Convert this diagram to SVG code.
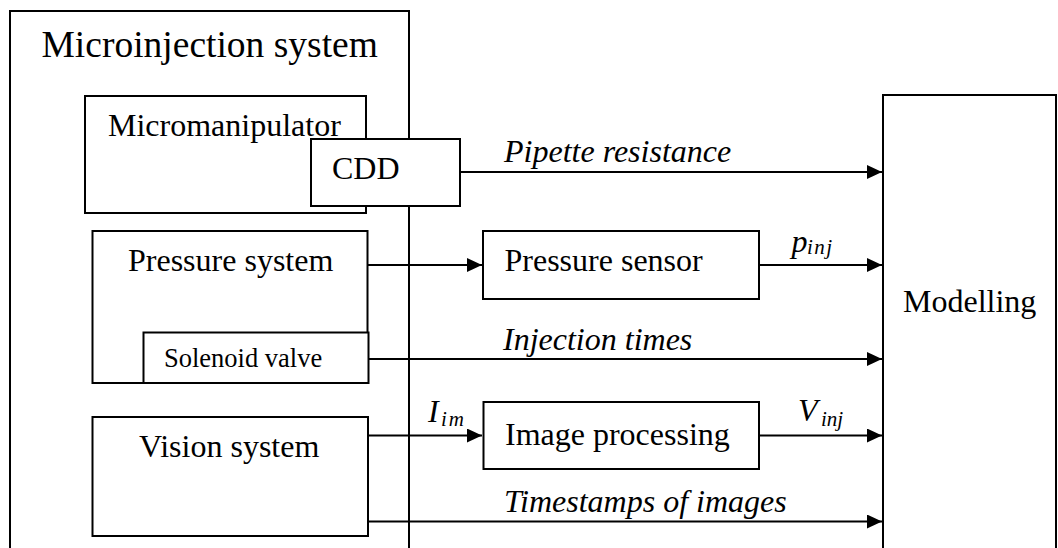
<svg xmlns="http://www.w3.org/2000/svg" width="1058" height="548" viewBox="0 0 1058 548">
  <style>
    .box { fill: #fff; stroke: #000; stroke-width: 2; }
    .frame { fill: none; stroke: #000; stroke-width: 2; }
    .wire { fill: none; stroke: #000; stroke-width: 2; }
    text { font-family: "Times New Roman", "Liberation Serif", "DejaVu Serif", serif; fill: #000; }
    .lbl { font-size: 32px; }
    .it { font-size: 32px; font-style: italic; }
    .sub { font-size: 21px; font-style: italic; }
  </style>
  <defs>
    <marker id="arrow" markerUnits="userSpaceOnUse" markerWidth="15" markerHeight="14" refX="15" refY="7" orient="auto">
      <path d="M0,0 L15,7 L0,14 z" fill="#000"/>
    </marker>
  </defs>
  <rect width="1058" height="548" fill="#fff"/>

  <!-- enclosing system frame, open at the bottom -->
  <g id="microinjection-system">
    <path class="frame" d="M10,560 V11 H409 V560"/>
    <text x="41.5" y="57" style="font-size:37.5px">Microinjection system</text>
  </g>

  <!-- modelling block, open at the bottom -->
  <g id="modelling">
    <path class="frame" d="M883,560 V95 H1056 V560"/>
    <text class="lbl" x="903" y="312">Modelling</text>
  </g>

  <g id="connectors">
    <line class="wire" x1="460" y1="172" x2="882" y2="172" marker-end="url(#arrow)"/>
    <line class="wire" x1="367" y1="265" x2="482" y2="265" marker-end="url(#arrow)"/>
    <line class="wire" x1="759" y1="265" x2="882" y2="265" marker-end="url(#arrow)"/>
    <line class="wire" x1="368" y1="359" x2="882" y2="359" marker-end="url(#arrow)"/>
    <line class="wire" x1="368" y1="435.5" x2="482" y2="435.5" marker-end="url(#arrow)"/>
    <line class="wire" x1="759" y1="435.5" x2="882" y2="435.5" marker-end="url(#arrow)"/>
    <line class="wire" x1="368" y1="521.5" x2="882" y2="521.5" marker-end="url(#arrow)"/>

    <text class="it" x="504" y="162">Pipette resistance</text>
    <text x="791.5" y="252"><tspan class="it">p</tspan><tspan class="sub" x="807" y="254" textLength="25" lengthAdjust="spacing">inj</tspan></text>
    <text class="it" x="503" y="350">Injection times</text>
    <text x="428" y="422"><tspan class="it">I</tspan><tspan class="sub" x="441" y="426" textLength="23" lengthAdjust="spacing">im</tspan></text>
    <text x="798" y="421"><tspan class="it">V</tspan><tspan class="sub" x="821" y="426">inj</tspan></text>
    <text class="it" x="504" y="512">Timestamps of images</text>
  </g>

  <g id="micromanipulator">
    <rect class="box" x="85" y="96" width="281" height="117"/>
    <text class="lbl" x="108" y="136">Micromanipulator</text>
  </g>

  <g id="cdd">
    <rect class="box" x="311" y="139" width="149" height="67"/>
    <text class="lbl" x="332" y="179">CDD</text>
  </g>

  <g id="pressure-system">
    <rect class="box" x="92.5" y="231" width="275" height="152"/>
    <text class="lbl" x="128" y="271">Pressure system</text>
  </g>

  <g id="solenoid-valve">
    <rect class="box" x="143.5" y="332.5" width="225" height="50.5"/>
    <text x="164" y="367" style="font-size:26.5px">Solenoid valve</text>
  </g>

  <g id="pressure-sensor">
    <rect class="box" x="483" y="231" width="276" height="68"/>
    <text class="lbl" x="504.5" y="271">Pressure sensor</text>
  </g>

  <g id="vision-system">
    <rect class="box" x="92.5" y="417" width="275.5" height="119"/>
    <text class="lbl" x="139" y="457">Vision system</text>
  </g>

  <g id="image-processing">
    <rect class="box" x="483.5" y="402" width="275.5" height="67"/>
    <text class="lbl" x="505" y="445">Image processing</text>
  </g>
</svg>
